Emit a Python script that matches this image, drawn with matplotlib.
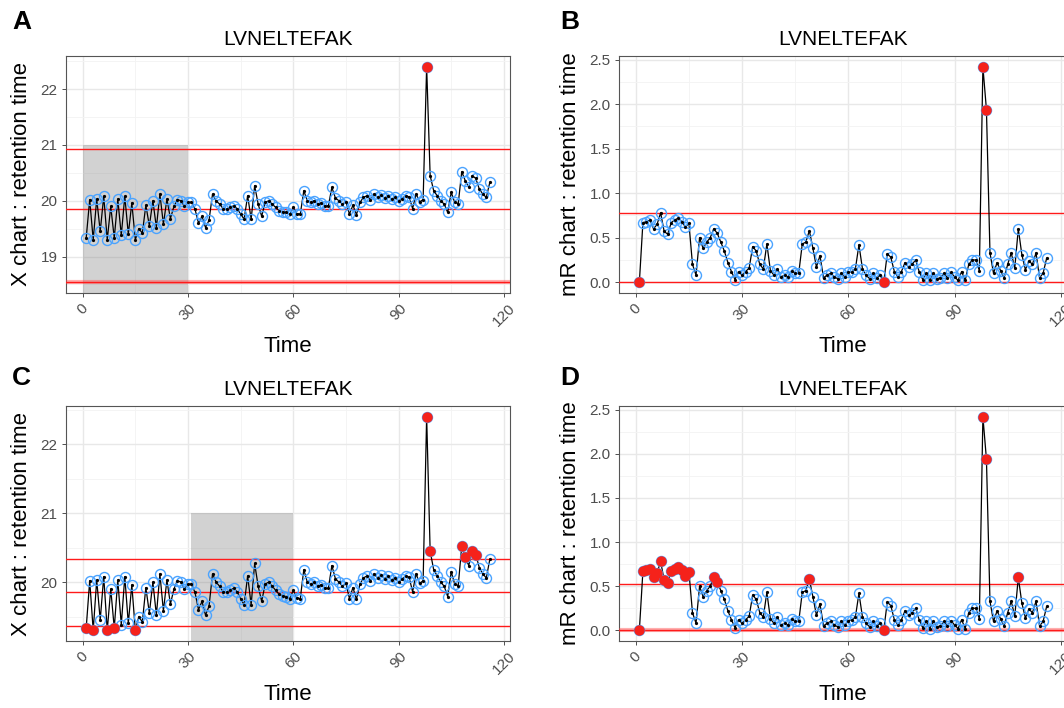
import numpy as np
import matplotlib.pyplot as plt
from matplotlib.ticker import MultipleLocator

plt.rcParams['font.family'] = ['Liberation Sans', 'DejaVu Sans']

peptide = "LVNELTEFAK"

# retention time per run (X chart)
rt = [19.33, 20.02, 19.30, 20.03, 19.45, 20.08, 19.30, 19.90, 19.33, 20.03,
      19.38, 20.08, 19.40, 19.96, 19.30, 19.50, 19.42, 19.92, 19.55, 20.00,
      19.52, 20.12, 19.58, 20.03, 19.68, 19.90, 20.02, 20.00, 19.90, 19.97,
      19.97, 19.85, 19.60, 19.72, 19.52, 19.65, 20.12, 20.00, 19.94, 19.86,
      19.85, 19.88, 19.91, 19.86, 19.76, 19.67, 20.09, 19.67, 20.27, 19.94,
      19.72, 19.97, 20.00, 19.94, 19.88, 19.82, 19.80, 19.79, 19.76, 19.88,
      19.77, 19.76, 20.18, 20.00, 19.97, 20.00, 19.94, 19.96, 19.91, 19.91,
      20.24, 20.05, 20.00, 19.94, 19.98, 19.76, 19.92, 19.75, 19.97, 20.06,
      20.09, 20.02, 20.12, 20.06, 20.10, 20.05, 20.09, 20.03, 20.06, 20.00,
      20.04, 20.09, 20.07, 19.86, 20.12, 19.98, 20.02, 22.40, 20.45, 20.18,
      20.09, 20.00, 19.94, 19.79, 20.15, 19.97, 19.95, 20.52, 20.36, 20.24,
      20.45, 20.40, 20.21, 20.12, 20.06, 20.33]

# moving range per run (mR chart)
mr = [0.00, 0.67, 0.68, 0.70, 0.60, 0.65, 0.78, 0.57, 0.54, 0.67,
      0.70, 0.72, 0.68, 0.62, 0.66, 0.20, 0.08, 0.50, 0.38, 0.45,
      0.50, 0.60, 0.55, 0.45, 0.35, 0.22, 0.12, 0.03, 0.12, 0.08,
      0.12, 0.16, 0.40, 0.35, 0.20, 0.15, 0.43, 0.13, 0.08, 0.15,
      0.06, 0.08, 0.06, 0.13, 0.10, 0.10, 0.43, 0.45, 0.58, 0.38,
      0.17, 0.30, 0.05, 0.08, 0.10, 0.06, 0.04, 0.10, 0.06, 0.11,
      0.12, 0.15, 0.42, 0.15, 0.08, 0.04, 0.10, 0.05, 0.08, 0.00,
      0.32, 0.28, 0.12, 0.06, 0.12, 0.22, 0.17, 0.20, 0.25, 0.12,
      0.03, 0.10, 0.02, 0.10, 0.04, 0.05, 0.10, 0.05, 0.11, 0.06,
      0.02, 0.12, 0.02, 0.20, 0.25, 0.25, 0.13, 2.42, 1.94, 0.33,
      0.10, 0.22, 0.13, 0.05, 0.20, 0.33, 0.16, 0.60, 0.31, 0.14,
      0.24, 0.20, 0.33, 0.05, 0.10, 0.27]

# control limits (lcl, cl, ucl) for each panel
limits_a = [18.54, 19.85, 20.93]
limits_b = [0.0, 0.78]
limits_c = [19.36, 19.85, 20.33]
limits_d = [0.0, 0.52]

# training windows
shade_a = [0, 30]
shade_c = [31, 60]
shade_top = 21

time = np.arange(1, len(rt) + 1)

fig = plt.figure(figsize=(10.64, 7.08), dpi=100)

W, H = 1064, 708
def place(x0, y0, x1, y1):
    return fig.add_axes([x0 / W, 1 - y1 / H, (x1 - x0) / W, (y1 - y0) / H])

axA = place(66, 56, 510, 293)
axB = place(619, 56, 1067, 293)
axC = place(66, 406, 510, 641)
axD = place(619, 406, 1067, 641)


def draw(ax, values, lines, ylabel, ystep, shade=None, thick_low=False):
    values = np.array(values)
    lcl, ucl = min(lines), max(lines)
    ax.plot(time, values, color='none')
    ax.margins(x=0.05, y=0.05)
    for v in lines:
        ax.axhline(v, color='#ff1a1a', lw=1.0, zorder=3)
    if thick_low:
        ax.axhline(lcl, color='#ff4d4d', lw=3.0, alpha=0.45, zorder=2.9)
    ylo, yhi = ax.get_ylim()
    ax.set_ylim(ylo, yhi)
    ax.set_xlim(ax.get_xlim())
    if shade is not None:
        ax.fill_between(shade, ylo - 1, shade_top, color='grey', alpha=0.35,
                        lw=0, zorder=2)
    ax.plot(time, values, color='black', lw=0.9, zorder=4)
    ax.plot(time, values, 'o', ms=7.2, mfc='none', mec='#4aa3ff', mew=1.0, zorder=5)
    ax.plot(time, values, 'o', ms=1.3, color='black', zorder=6)
    bad = (values > ucl) | (values <= lcl)
    ax.plot(time[bad], values[bad], 'o', ms=7.5, color='#f5221b', mew=0, zorder=7)

    ax.xaxis.set_major_locator(MultipleLocator(30))
    ax.xaxis.set_minor_locator(MultipleLocator(15))
    ax.yaxis.set_major_locator(MultipleLocator(ystep))
    ax.yaxis.set_minor_locator(MultipleLocator(ystep / 2))
    ax.grid(which='major', color='#e8e8e8', lw=1.0, zorder=0)
    ax.grid(which='minor', color='#f3f3f3', lw=0.6, zorder=0)
    ax.set_axisbelow(True)
    ax.tick_params(which='minor', length=0)
    ax.tick_params(which='major', length=3, width=0.6, color='#333333',
                   labelcolor='#4d4d4d', labelsize=11, pad=3)
    for lab in ax.get_xticklabels():
        lab.set_rotation(45)
        lab.set_ha('center')
    for s in ax.spines.values():
        s.set_color('#555555')
        s.set_linewidth(0.8)
    ax.set_title(peptide, fontsize=15, pad=8)
    ax.set_xlabel('Time', fontsize=16, labelpad=5)
    ax.set_ylabel(ylabel, fontsize=16, labelpad=6)


draw(axA, rt, limits_a, 'X chart : retention time', 1, shade=shade_a, thick_low=True)
draw(axB, mr, limits_b, 'mR chart : retention time', 0.5)
draw(axC, rt, limits_c, 'X chart : retention time', 1, shade=shade_c)
draw(axD, mr, limits_d, 'mR chart : retention time', 0.5, thick_low=True)

axB.yaxis.set_major_formatter(plt.FormatStrFormatter('%.1f'))
axD.yaxis.set_major_formatter(plt.FormatStrFormatter('%.1f'))

for letter, x, y in [('A', 12, 22), ('B', 560, 22), ('C', 12, 378), ('D', 560, 378)]:
    fig.text(x / W, 1 - y / H, letter, fontsize=19, fontweight='bold',
             va='center', ha='left')

fig.savefig('out.png', dpi=100)
